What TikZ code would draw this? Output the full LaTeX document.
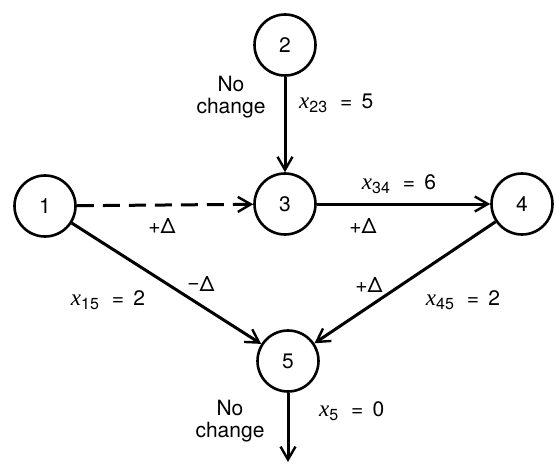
\documentclass[tikz,border=0pt]{standalone}
\usepackage{fontspec}
\setmainfont{TeX Gyre Heros}
\newfontfamily\xf{Liberation Serif}
\usetikzlibrary{arrows.meta}
\newcommand{\xv}[1]{{\xf\fontsize{23}{24}\selectfont\itshape x}\raisebox{-4pt}{\fontsize{16}{17}\selectfont #1}}
\begin{document}
\begin{tikzpicture}[x=1pt,y=-1pt,
  every node/.style={font=\fontsize{21}{22}\selectfont},
  vert/.style={circle,draw,line width=2.6pt,minimum size=61pt,inner sep=0pt},
  arc/.style={line width=3pt,-{Straight Barb[length=13pt,width=15pt,line width=2.4pt]}},
  lbl/.style={inner sep=0pt}]
\useasboundingbox (0,0) rectangle (556,465);
\node[vert] (n1) at (45,206) {1};
\node[vert] (n2) at (285,45) {2};
\node[vert] (n3) at (285,204) {3};
\node[vert] (n4) at (522,204) {4};
\node[vert] (n5) at (288,361) {5};
\coordinate (out) at (288,462);
\draw[arc] (n2) -- (n3);
\draw[arc,dashed,dash pattern=on 17pt off 9pt] (n1) -- (n3);
\draw[arc] (n3) -- (n4);
\draw[arc] (n1) -- (n5);
\draw[arc] (n4) -- (n5);
\draw[arc] (n5) -- (out);
\node[lbl,align=center] (l1) at (231,97) {No\\change};
\node[lbl,anchor=west] (l2) at (299,103) {\xv{23}\,\, = \,5};
\node[lbl] (l3) at (399,184) {\xv{34}\,\, = \,6};
\node[lbl] (l4) at (363,226) {+Δ};
\node[lbl] (l5) at (162,226) {+Δ};
\node[lbl] (l6) at (108,300) {\xv{15}\,\, = \,2};
\node[lbl] (l7) at (201,284) {\raisebox{2pt}{−}Δ};
\node[lbl] (l8) at (369,285) {+Δ};
\node[lbl] (l9) at (463,300) {\xv{45}\,\, = \,2};
\node[lbl,align=center] (l10) at (230,421) {No\\change};
\node[lbl,anchor=west] (l11) at (319,411) {\xv{5}\,\, = \,0};
\end{tikzpicture}
\end{document}
